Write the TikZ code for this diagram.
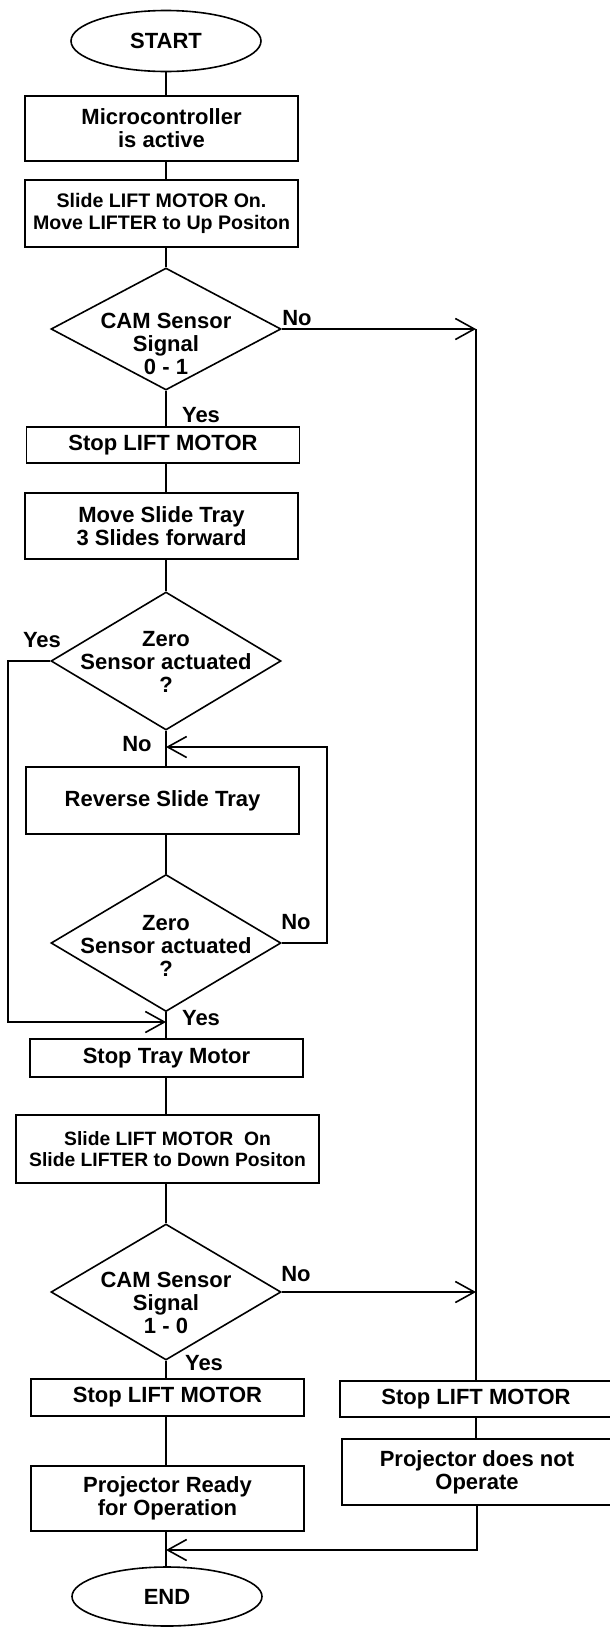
\documentclass[tikz,border=0pt]{standalone}
\usepackage{fontspec}
\setmainfont{Liberation Sans}
\usetikzlibrary{shapes.geometric,arrows.meta}

\begin{document}
\begin{tikzpicture}[x=1pt,y=-1pt,line width=1.6pt,
    font=\bfseries\fontsize{22pt}{23pt}\selectfont,
    terminal/.style={ellipse,draw,minimum width=190pt,minimum height=61pt,inner sep=0pt},
    box/.style={rectangle,draw,minimum width=273pt,inner sep=0pt,align=center},
    smallbox/.style={box,font=\bfseries\fontsize{19.6pt}{22.5pt}\selectfont},
    decision/.style={diamond,draw,minimum width=230pt,inner sep=0pt},
    dtext/.style={align=center,inner sep=0pt},
    answer/.style={draw=none,inner sep=0pt},
    flow/.style={-{Straight Barb[length=19pt,width=21pt]}}]

\useasboundingbox (0,0) rectangle (610,1628);

% main column
\node[terminal] (start) at (166,41) {START};
\node[box,minimum height=65pt] (active) at (161.5,128.5) {Microcontroller\\is active};
\node[smallbox,minimum height=67pt] (liftup) at (161.5,213.5) {Slide LIFT MOTOR On.\\Move LIFTER to Up Positon};
\node[decision,minimum height=122pt,label={[dtext,yshift=-15pt]center:CAM Sensor\\Signal\\0 - 1}] (cam1) at (166,329) {};
\node[box,minimum height=36pt] (stop1) at (163,445) {Stop LIFT MOTOR};
\node[box,minimum height=66pt] (forward) at (161.5,526) {Move Slide Tray\\3 Slides forward};
\node[decision,minimum height=138pt,label={[dtext,yshift=-1pt]center:Zero\\Sensor actuated\\?}] (zero1) at (166,661) {};
\node[box,minimum height=67pt] (reverse) at (162.5,800.5) {Reverse Slide Tray};
\node[decision,minimum height=137pt,label={[dtext,yshift=-3pt]center:Zero\\Sensor actuated\\?}] (zero2) at (166,943) {};
\node[box,minimum height=38pt] (stoptray) at (166.5,1058) {Stop Tray Motor};
\node[smallbox,minimum width=303pt,minimum height=68pt,font=\bfseries\fontsize{19.3pt}{21.6pt}\selectfont] (liftdown) at (167.5,1149) {Slide LIFT MOTOR\ \ On\\Slide LIFTER to Down Positon};
\node[decision,minimum height=136pt,label={[dtext,yshift=-11pt]center:CAM Sensor\\Signal\\1 - 0}] (cam2) at (166,1292) {};
\node[box,minimum height=37pt] (stop2) at (167.5,1397.5) {Stop LIFT MOTOR};
\node[box,minimum height=65pt] (ready) at (167.5,1498.5) {Projector Ready\\for Operation};
\node[terminal,minimum height=59pt] (end) at (167,1596.5) {END};

% right column
\node[box,minimum width=272pt,minimum height=36pt] (stop3) at (476,1399) {Stop LIFT MOTOR};
\node[box,minimum width=270pt,minimum height=66pt] (fail) at (477,1472) {Projector does not\\Operate};

% answers
\foreach \name/\x/\y/\txt in {no1/297/318/No, yes1/201/415/Yes, yes2/42/640/Yes, no2/137/744/No,
    no3/296/922/No, yes3/201/1018/Yes, no4/296/1274/No, yes4/204/1363/Yes}{
    \node[answer] (\name) at (\x,\y) {\txt};
}

\coordinate (rail1) at (476,329);
\coordinate (rail2) at (476,1292);
\coordinate (leftrail) at (8,1022);
\coordinate (yesjoin) at (166,1022);
\coordinate (looprail) at (327,747);
\coordinate (nojoin) at (166,747);
\coordinate (endjoin) at (166,1550);

% straight links down the main column
\foreach \a/\b in {start/active, active/liftup, liftup/cam1, cam1/stop1, stop1/forward, forward/zero1,
    zero1/reverse, reverse/zero2, zero2/stoptray, stoptray/liftdown, liftdown/cam2, cam2/stop2,
    stop2/ready, ready/end}{
    \draw (\a.south -| start) -- (\b.north -| start);
}

\draw[flow] (cam1.east) -- (rail1); % No branch
\draw (rail1) -- (stop3.north);
\draw[flow] (cam2.east) -- (rail2);
\draw (stop3.south) -- (stop3.south |- fail.north);
\draw[flow] (fail.south) |- (endjoin);

\draw[flow] (zero1.west) -| (leftrail) -- (yesjoin); % skip reverse
\draw[flow] (zero2.east) -| (looprail) -- (nojoin); % loop back

\end{tikzpicture}
\end{document}
